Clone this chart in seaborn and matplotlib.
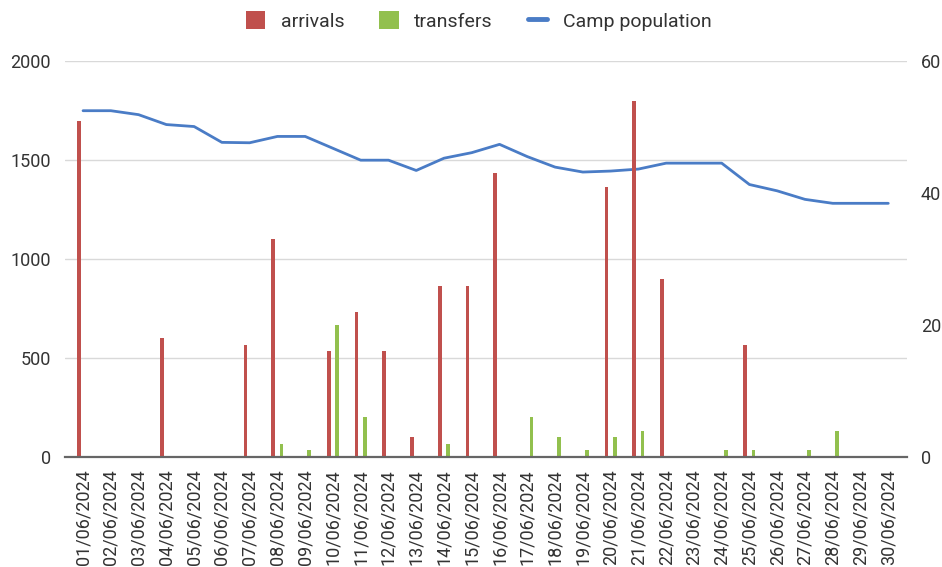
import matplotlib
matplotlib.use("Agg")
import matplotlib.pyplot as plt
import seaborn as sns
import pandas as pd
from matplotlib.patches import Patch
from matplotlib.lines import Line2D

dates = [f"{d:02d}/06/2024" for d in range(1, 31)]
arrivals = [51, 0, 0, 18, 0, 0, 17, 33, 0, 16, 22, 16, 3, 26, 26,
            43, 0, 0, 0, 41, 54, 27, 0, 0, 17, 0, 0, 0, 0, 0]
transfers = [0, 0, 0, 0, 0, 0, 0, 2, 1, 20, 6, 0, 0, 2, 0,
             0, 6, 3, 1, 3, 4, 0, 0, 1, 1, 0, 1, 4, 0, 0]
population = [1750, 1750, 1730, 1680, 1670, 1590, 1588, 1620, 1620, 1560,
              1500, 1500, 1448, 1510, 1538, 1580, 1518, 1465, 1440, 1445,
              1455, 1485, 1485, 1485, 1377, 1345, 1302, 1282, 1282, 1282]

series_names = ["arrivals", "transfers"]
colors = {"arrivals": "#c0504d", "transfers": "#92c04e"}
line_color = "#4a7cc6"

bars = pd.DataFrame({
    "date": dates * 2,
    "value": arrivals + transfers,
    "series": ["arrivals"] * len(dates) + ["transfers"] * len(dates),
})

sns.set_theme(style="white")
plt.rcParams["font.family"] = ["Roboto", "DejaVu Sans"]
text_color = "#333333"

fig = plt.figure(figsize=(9.42, 5.67), dpi=100)
ax = fig.add_axes([0.069, 0.194, 0.894, 0.698])

sns.lineplot(x=dates, y=population, ax=ax, color=line_color, linewidth=2.0,
             sort=False, zorder=3)
ax.set_ylim(0, 2000)
ax.set_yticks([0, 500, 1000, 1500, 2000])
ax.grid(axis="y", color="#d9d9d9", linewidth=1.0)
ax.grid(axis="x", visible=False)

ax2 = ax.twinx()
sns.barplot(data=bars, x="date", y="value", hue="series", hue_order=series_names,
            palette=colors, width=0.6, gap=0.55, ax=ax2, legend=False,
            saturation=1, errorbar=None, linewidth=0, edgecolor="none")
ax2.set_ylim(0, 60)
ax2.set_yticks([0, 20, 40, 60])
ax2.grid(False)

ax.set_xlim(-0.65, 29.68)

for a in (ax, ax2):
    for s in a.spines.values():
        s.set_visible(False)
    a.set_xlabel("")
    a.set_ylabel("")
ax2.spines["bottom"].set_visible(True)
ax2.spines["bottom"].set_color("#666666")
ax2.spines["bottom"].set_linewidth(1.6)

ax.tick_params(axis="y", length=0, labelsize=13, labelcolor=text_color, pad=10)
ax2.tick_params(axis="y", length=0, labelsize=13, labelcolor=text_color, pad=10)
ax2.tick_params(axis="x", length=0, labelsize=13, labelcolor=text_color,
                rotation=90, pad=9)
ax.tick_params(axis="x", length=0, labelsize=13, labelcolor=text_color,
               rotation=90, pad=9)

handles = [Patch(facecolor=colors["arrivals"], edgecolor="none"),
           Patch(facecolor=colors["transfers"], edgecolor="none"),
           Line2D([0], [0], color=line_color, linewidth=3.5)]
fig.legend(handles, ["arrivals", "transfers", "Camp population"],
           loc="center", bbox_to_anchor=(0.508, 0.963), ncol=3, frameon=False,
           fontsize=14, labelcolor=text_color, handlelength=1.0,
           handleheight=1.0, handletextpad=0.8, columnspacing=1.8)

fig.savefig("out.png", dpi=100)
